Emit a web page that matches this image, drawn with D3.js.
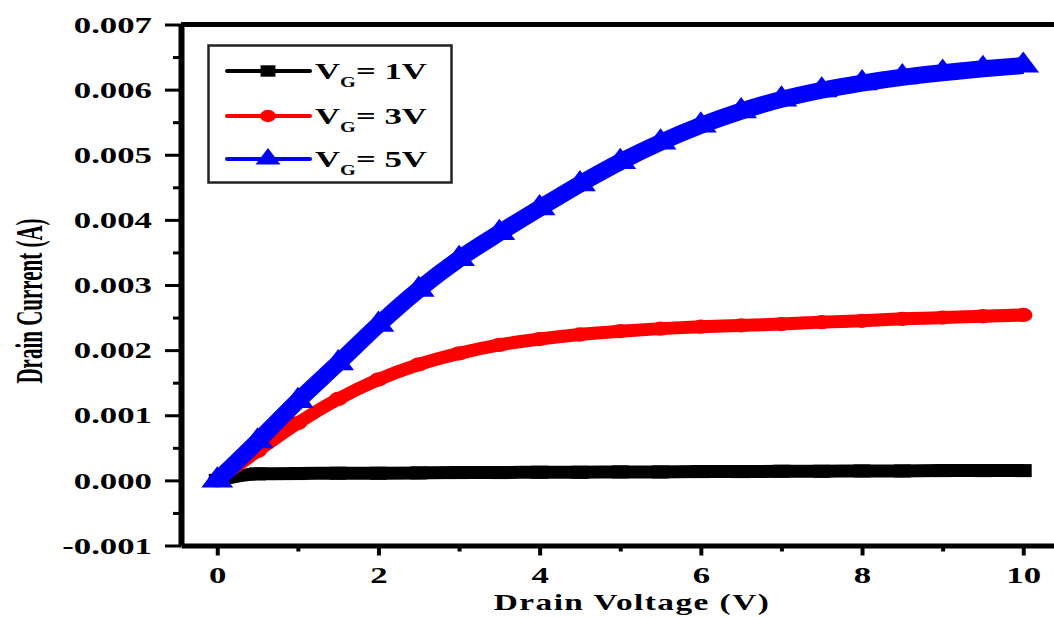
<!DOCTYPE html>
<html>
<head>
<meta charset="utf-8">
<script src="https://cdn.jsdelivr.net/npm/d3@7"></script>
<style>
  html, body { margin: 0; padding: 0; background: #fff; }
  svg { display: block; font-family: "Liberation Serif", "Times New Roman", serif; font-weight: bold; }
</style>
</head>
<body>
<svg id="chart" width="1054" height="617"></svg>
<script>
// drain voltage (V) and drain current (A)
const drainVoltage = [0, 0.5, 1, 1.5, 2, 2.5, 3, 3.5, 4, 4.5, 5, 5.5, 6, 6.5, 7, 7.5, 8, 8.5, 9, 9.5, 10];
const currentVg1 = [0, 0.00010, 0.000105, 0.00011, 0.00011, 0.000115, 0.00012, 0.00012, 0.000125, 0.000125, 0.00013,
  0.00013, 0.000135, 0.000135, 0.00014, 0.00014, 0.000145, 0.000145, 0.00015, 0.00015, 0.00015];
const currentVg3 = [0, 0.00045, 0.00088, 0.00125, 0.00155, 0.00178, 0.00195, 0.00208, 0.00217, 0.00224, 0.00229,
  0.00233, 0.00236, 0.00238, 0.00240, 0.00243, 0.00245, 0.00248, 0.00250, 0.00252, 0.00254];
const currentVg5 = [0, 0.00060, 0.00122, 0.00180, 0.00239, 0.00293, 0.00340, 0.00380, 0.00418, 0.00455, 0.00489,
  0.00519, 0.00545, 0.00567, 0.00585, 0.00599, 0.00610, 0.00619, 0.00626, 0.00632, 0.00637];
const seriesLabels = ["= 1V", "= 3V", "= 5V"];

const xTickValues = [0, 2, 4, 6, 8, 10];
const xMinorValues = [1, 3, 5, 7, 9];
const yTickValues = [-0.001, 0, 0.001, 0.002, 0.003, 0.004, 0.005, 0.006, 0.007];
const yTickLabels = ["-0.001", "0.000", "0.001", "0.002", "0.003", "0.004", "0.005", "0.006", "0.007"];
const yMinorValues = [-0.0005, 0.0005, 0.0015, 0.0025, 0.0035, 0.0045, 0.0055, 0.0065];

const plotLeft = 181, plotRight = 1059.5, plotTop = 24.5, plotBottom = 545.5;
const stretch = 1.45; // the figure is stretched sideways

const svg = d3.select("#chart");

const x = d3.scaleLinear().domain([-0.45, 10.45]).range([plotLeft, plotRight]);
const y = d3.scaleLinear().domain([-0.001, 0.007]).range([plotBottom, plotTop]);

// top frame line (right side runs off the picture)
svg.append("line")
  .attr("x1", plotLeft).attr("x2", plotRight + 10)
  .attr("y1", plotTop).attr("y2", plotTop)
  .attr("stroke", "#000").attr("stroke-width", 5);

// curves
const series = [
  { values: currentVg1, color: "#000000", width: 13, shape: d3.symbolSquare, size: 170, legendSize: 130 },
  { values: currentVg3, color: "#ff0000", width: 13, shape: d3.symbolCircle, size: 160, legendSize: 120 },
  { values: currentVg5, color: "#0000ff", width: 17, shape: d3.symbolTriangle, size: 260, legendSize: 160 }
];

const line = d3.line()
  .x(d => x(d[0]))
  .y(d => y(d[1]))
  .curve(d3.curveMonotoneX);

series.forEach(s => {
  const pts = drainVoltage.map((v, i) => [v, s.values[i]]);
  svg.append("path")
    .datum(pts)
    .attr("d", line)
    .attr("fill", "none")
    .attr("stroke", s.color)
    .attr("stroke-width", s.width)
    .attr("stroke-linejoin", "round");
  svg.append("g").selectAll("path")
    .data(pts)
    .enter()
    .append("path")
    .attr("d", d3.symbol().type(s.shape).size(s.size))
    .attr("transform", d => "translate(" + x(d[0]) + "," + y(d[1]) + ") scale(1.3,1)")
    .attr("fill", s.color);
});

// y axis
const yAxis = svg.append("g")
  .attr("transform", "translate(" + plotLeft + ",0)")
  .call(d3.axisLeft(y).tickValues(yTickValues).tickSize(16).tickSizeOuter(0)
    .tickFormat((d, i) => yTickLabels[i]));
yAxis.select(".domain").attr("stroke-width", 6);
yAxis.selectAll(".tick line").attr("stroke-width", 3);
yAxis.selectAll("text")
  .attr("x", -29 / stretch)
  .attr("transform", "scale(" + stretch + ",1)")
  .attr("font-size", 24)
  .attr("font-family", "Liberation Serif, Times New Roman, serif")
  .attr("font-weight", "bold")
  .attr("fill", "#000");

svg.append("g")
  .attr("transform", "translate(" + plotLeft + ",0)")
  .call(d3.axisLeft(y).tickValues(yMinorValues).tickSize(8).tickFormat(""))
  .call(g => g.select(".domain").remove())
  .selectAll(".tick line").attr("stroke-width", 3);

// x axis
const xAxis = svg.append("g")
  .attr("transform", "translate(0," + plotBottom + ")")
  .call(d3.axisBottom(x).tickValues(xTickValues).tickSize(10).tickSizeOuter(0));
xAxis.select(".domain").attr("stroke-width", 5);
xAxis.selectAll(".tick line").attr("stroke-width", 4);
xAxis.selectAll("text")
  .attr("y", 20)
  .attr("transform", "scale(" + stretch + ",1)")
  .attr("font-size", 24)
  .attr("font-family", "Liberation Serif, Times New Roman, serif")
  .attr("font-weight", "bold")
  .attr("fill", "#000");

svg.append("g")
  .attr("transform", "translate(0," + plotBottom + ")")
  .call(d3.axisBottom(x).tickValues(xMinorValues).tickSize(6).tickFormat(""))
  .call(g => g.select(".domain").remove())
  .selectAll(".tick line").attr("stroke-width", 4);

// axis titles
svg.append("text")
  .attr("transform", "translate(632,610) scale(" + stretch + ",1)")
  .attr("text-anchor", "middle")
  .attr("font-size", 23)
  .attr("letter-spacing", 1)
  .text("Drain Voltage (V)");

svg.append("text")
  .attr("transform", "translate(42,301) rotate(-90) scale(1,1.8)")
  .attr("text-anchor", "middle")
  .attr("font-size", 21)
  .text("Drain Current (A)");

// legend
const legend = svg.append("g");
legend.append("rect")
  .attr("x", 208.5).attr("y", 45.5)
  .attr("width", 243).attr("height", 137)
  .attr("fill", "#fff")
  .attr("stroke", "#222")
  .attr("stroke-width", 2.5);

const legendRows = [71, 116, 159];
series.forEach((s, i) => {
  const ly = legendRows[i];
  legend.append("line")
    .attr("x1", 227).attr("x2", 310)
    .attr("y1", ly).attr("y2", ly)
    .attr("stroke", s.color)
    .attr("stroke-width", 4)
    .attr("stroke-linecap", "round");
  legend.append("path")
    .attr("d", d3.symbol().type(s.shape).size(s.legendSize))
    .attr("transform", "translate(268," + ly + ") scale(1.3,1)")
    .attr("fill", s.color);
  const t = legend.append("text")
    .attr("transform", "translate(315," + (ly + 8) + ") scale(" + stretch + ",1)")
    .attr("font-size", 24);
  t.append("tspan").text("V");
  t.append("tspan").attr("font-size", 14).attr("dy", 8).text("G");
  t.append("tspan").attr("dy", -8).text(seriesLabels[i]);
});
</script>
</body>
</html>
